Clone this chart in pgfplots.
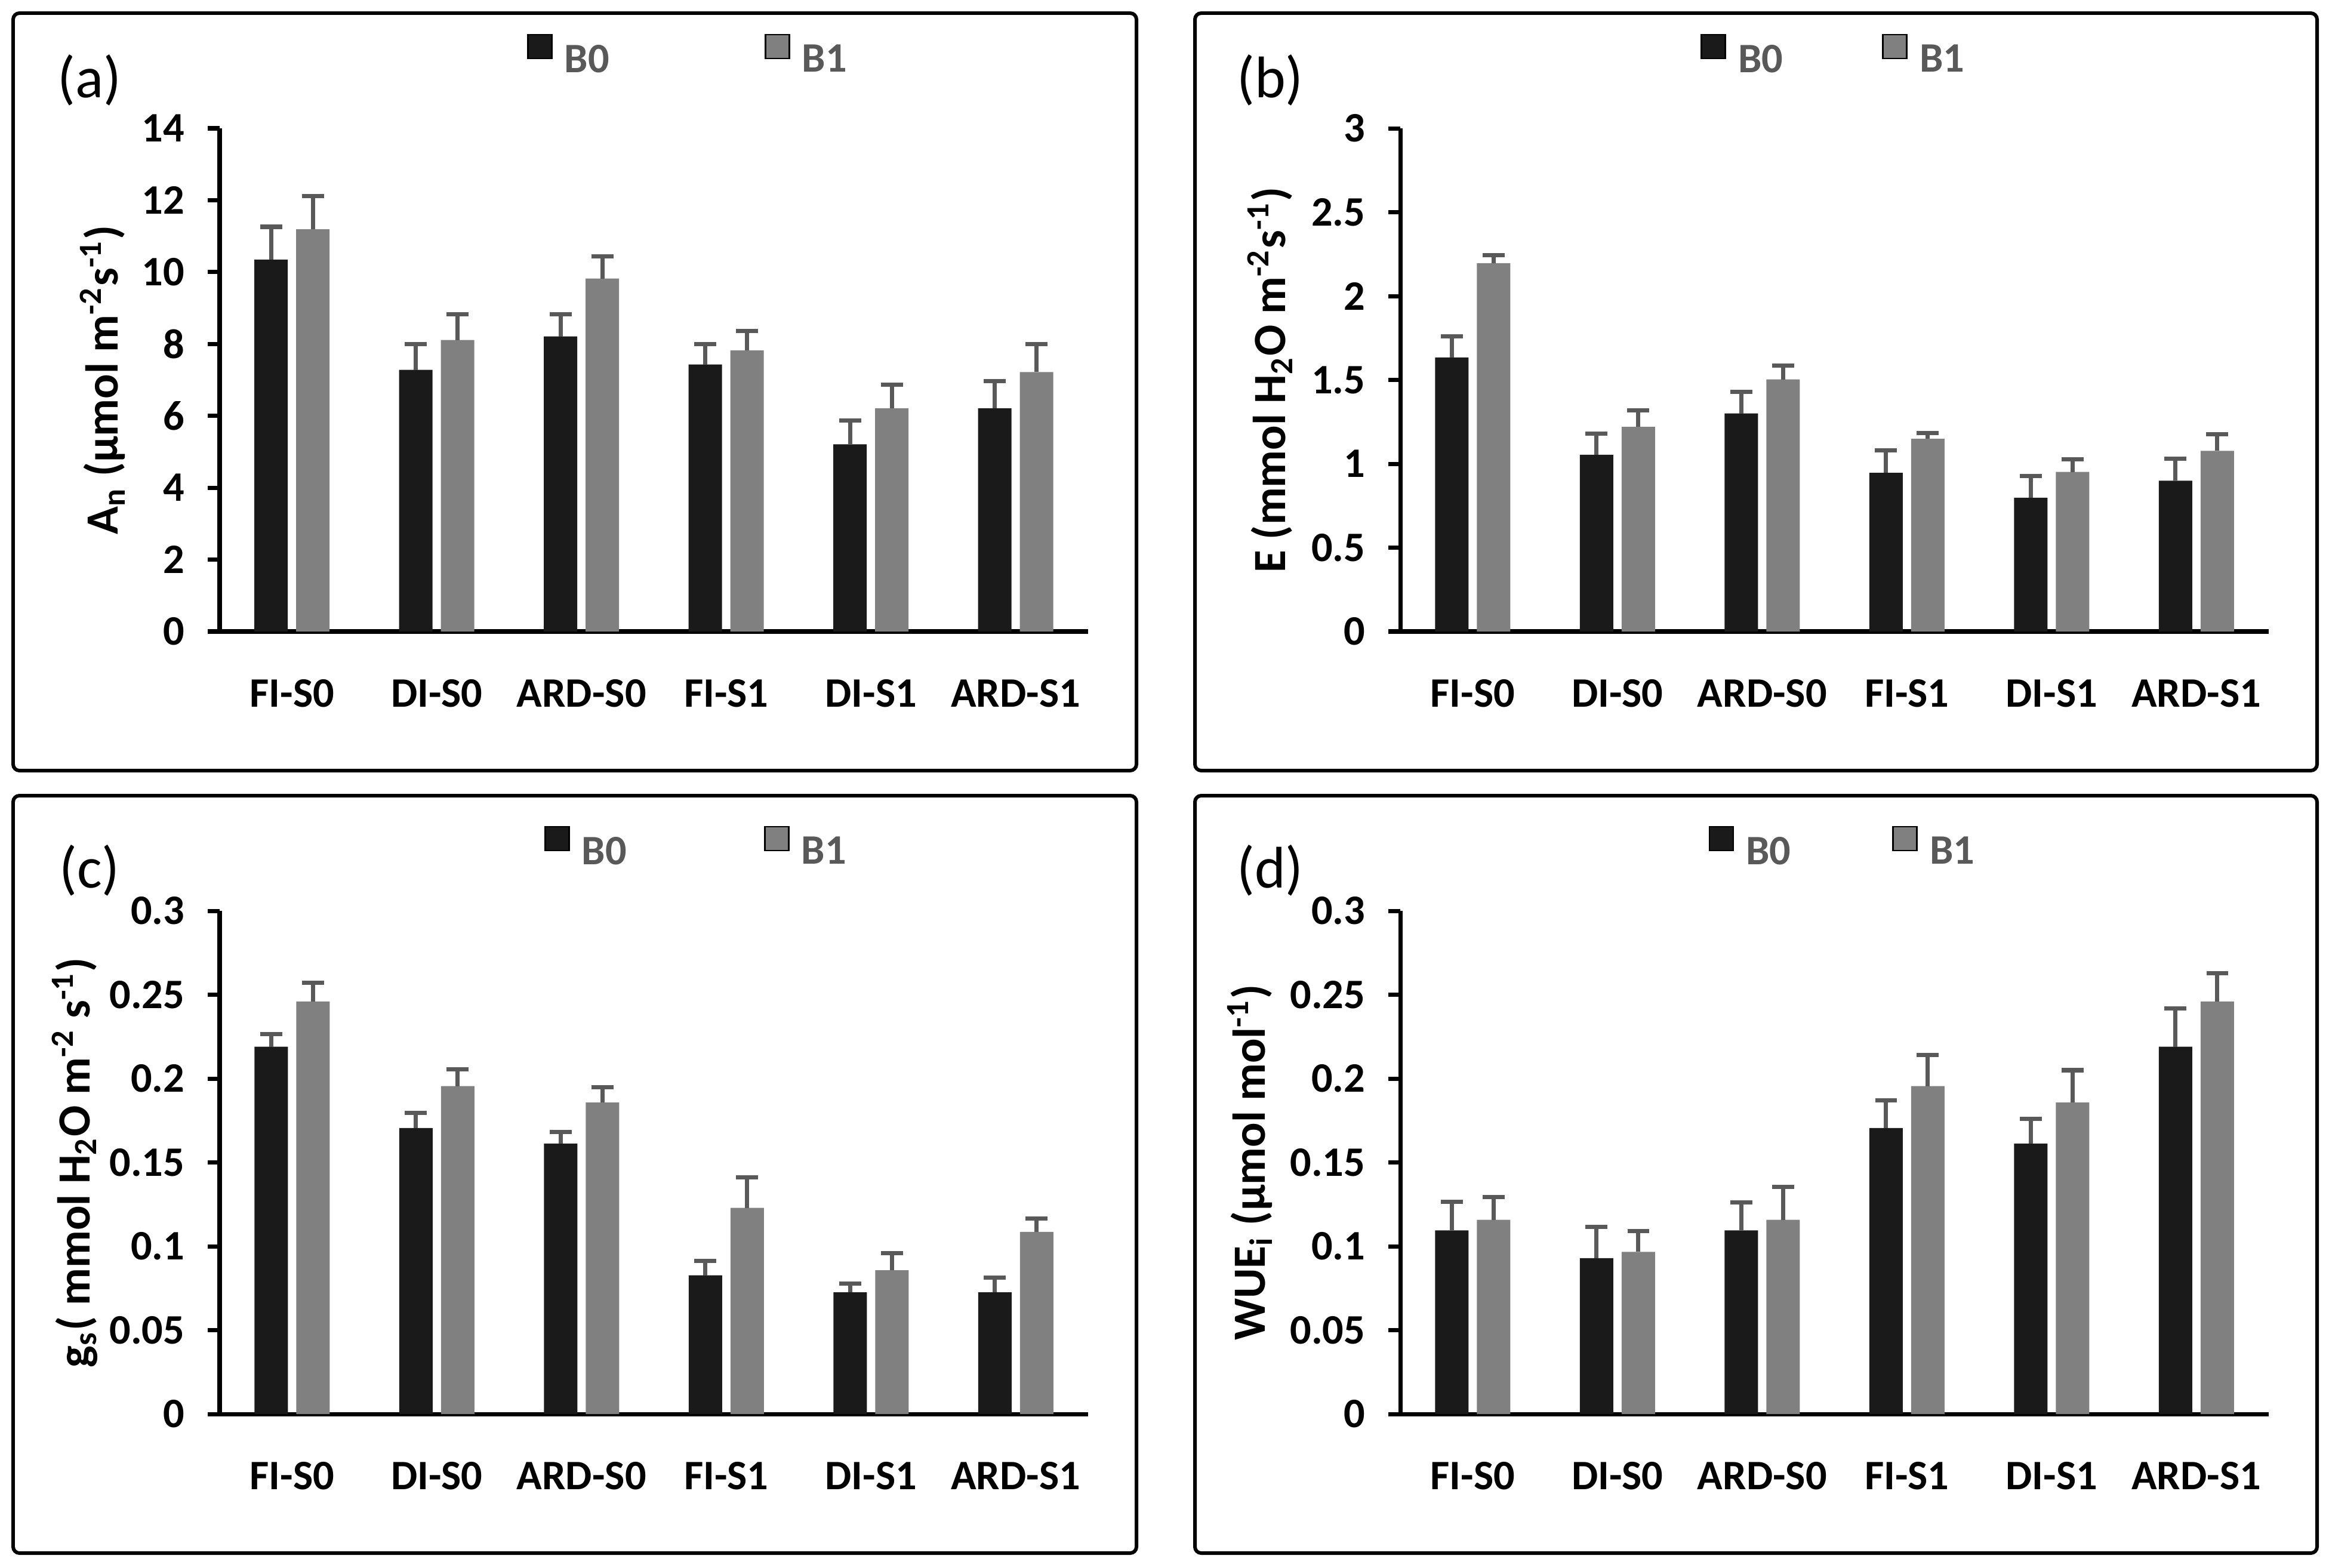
\documentclass[border=0pt]{standalone}
\usepackage{fontspec}
\setmainfont{Carlito}
\usepackage{pgfplots}
\usepackage{pgfplotstable}
\pgfplotsset{compat=1.18}

\definecolor{bzero}{HTML}{1A1A1A}
\definecolor{bone}{HTML}{808080}
\definecolor{errc}{HTML}{595959}

% x: category index, b0/b1: means, e0/e1: upper error
\pgfplotstableread{
x b0 e0 b1 e1
0 10.35 0.91 11.19 0.93
1 7.28 0.72 8.11 0.72
2 8.21 0.62 9.82 0.61
3 7.43 0.56 7.82 0.54
4 5.21 0.66 6.21 0.66
5 6.21 0.75 7.22 0.77
}\tabA
\pgfplotstableread{
x b0 e0 b1 e1
0 1.634 0.125 2.196 0.048
1 1.054 0.125 1.220 0.098
2 1.300 0.130 1.503 0.083
3 0.946 0.134 1.149 0.036
4 0.798 0.128 0.952 0.075
5 0.899 0.131 1.077 0.099
}\tabB
\pgfplotstableread{
x b0 e0 b1 e1
0 0.2190 0.0075 0.2460 0.0110
1 0.1705 0.0090 0.1955 0.0102
2 0.1613 0.0067 0.1857 0.0093
3 0.0827 0.0087 0.1229 0.0181
4 0.0726 0.0051 0.0857 0.0101
5 0.0726 0.0087 0.1086 0.0078
}\tabC
\pgfplotstableread{
x b0 e0 b1 e1
0 0.1095 0.0170 0.1158 0.0137
1 0.0929 0.0187 0.0967 0.0125
2 0.1095 0.0165 0.1158 0.0196
3 0.1705 0.0165 0.1955 0.0185
4 0.1613 0.0147 0.1857 0.0193
5 0.2190 0.0230 0.2460 0.0170
}\tabD

\pgfplotsset{
  panel/.style={
    anchor=south west,
    scale only axis, width=7.275cm, height=4.215cm,
    xmin=-0.5, xmax=5.5, ymin=0,
    axis x line=bottom, axis y line=left,
    axis line style={-, line width=1pt, black},
    ybar, bar width=0.28cm,
    xtick={0,...,5},
    xticklabels={FI-S0,DI-S0,ARD-S0,FI-S1,DI-S1,ARD-S1},
    xtick style={draw=none},
    ytick style={line width=1pt, black},
    tick align=outside, major tick length=0.1cm,
    scaled y ticks=false,
    /pgf/number format/fixed,
    /pgf/number format/precision=2,
    /pgf/number format/assume math mode=true,
    ticklabel style={font=\fontsize{10}{12}\selectfont\bfseries},
    xticklabel style={yshift=-5pt},
    yticklabel style={xshift=-2pt},
    ylabel style={font=\fontsize{11}{13}\selectfont\bfseries, anchor=center},
    legend style={draw=none, fill=none, legend columns=2,
      inner sep=0pt, outer sep=0pt,
      nodes={inner sep=0pt, text depth=0pt},
      font=\fontsize{10}{12}\selectfont\bfseries, text=errc,
      column sep=0.1cm, anchor=south west},
    legend image code/.code={\fill[##1] (0cm,0cm) rectangle (0.2cm,0.2cm);},
    clip=false,
  },
  bzplot/.style={fill=bzero, draw=none, bar shift=-0.175cm, forget plot,
    error bars/.cd, y dir=plus, y explicit,
    error bar style={draw=errc, line width=1pt},
    error mark options={draw=errc, rotate=90, mark size=2.6pt, line width=1pt}},
  boplot/.style={fill=bone, draw=none, bar shift=0.175cm, forget plot,
    error bars/.cd, y dir=plus, y explicit,
    error bar style={draw=errc, line width=1pt},
    error mark options={draw=errc, rotate=90, mark size=2.6pt, line width=1pt}},
}

\begin{document}
\begin{tikzpicture}
\path[use as bounding box] (0,0) rectangle (19.51,-13.13);

% panel frames
\draw[line width=0.85pt, rounded corners=1.5pt] (0.11,-0.11) rectangle (9.52,-6.455);
\draw[line width=0.85pt, rounded corners=1.5pt] (10.01,-0.11) rectangle (19.41,-6.455);
\draw[line width=0.85pt, rounded corners=1.5pt] (0.11,-6.665) rectangle (9.52,-13.01);
\draw[line width=0.85pt, rounded corners=1.5pt] (10.01,-6.665) rectangle (19.41,-13.01);

\node[font=\fontsize{14}{16}\selectfont] at (0.75,-0.67) {(a)};
\node[font=\fontsize{14}{16}\selectfont] at (10.64,-0.67) {(b)};
\node[font=\fontsize{14}{16}\selectfont] at (0.75,-7.29) {(c)};
\node[font=\fontsize{14}{16}\selectfont] at (10.64,-7.29) {(d)};

% (a)
\begin{axis}[panel, at={(1.84cm,-5.29cm)},
  ymax=14, ytick={0,2,...,14},
  ylabel={A\textsubscript{n} (µmol m\textsuperscript{-2}s\textsuperscript{-1})},
  ylabel style={at={(axis description cs:-0.1347,0.5)}},
  legend style={at={(0.354,1.1115)},
    /tikz/every even column/.append style={column sep=1.3cm}},
]
\addplot[bzplot] table[x=x, y=b0, y error=e0] {\tabA};
\addplot[boplot] table[x=x, y=b1, y error=e1] {\tabA};
\addlegendimage{fill=bzero}\addlegendentry{B0}
\addlegendimage{fill=bone}\addlegendentry{B1}
\end{axis}

% (b)
\begin{axis}[panel, at={(11.73cm,-5.29cm)},
  ymax=3, ytick={0,0.5,1,1.5,2,2.5,3},
  ylabel={E (mmol H\textsubscript{2}O m\textsuperscript{-2}s\textsuperscript{-1})},
  ylabel style={at={(axis description cs:-0.1498,0.5)}},
  legend style={at={(0.346,1.1115)},
    /tikz/every even column/.append style={column sep=0.83cm}},
]
\addplot[bzplot] table[x=x, y=b0, y error=e0] {\tabB};
\addplot[boplot] table[x=x, y=b1, y error=e1] {\tabB};
\addlegendimage{fill=bzero}\addlegendentry{B0}
\addlegendimage{fill=bone}\addlegendentry{B1}
\end{axis}

% (c)
\begin{axis}[panel, at={(1.84cm,-11.845cm)},
  ymax=0.3, ytick={0,0.05,0.1,0.15,0.2,0.25,0.3},
  ylabel={g\textsubscript{s}( mmol H\textsubscript{2}O m\textsuperscript{-2} s\textsuperscript{-1})},
  ylabel style={at={(axis description cs:-0.167,0.5)}},
  legend style={at={(0.374,1.0925)},
    /tikz/every even column/.append style={column sep=1.15cm}},
]
\addplot[bzplot] table[x=x, y=b0, y error=e0] {\tabC};
\addplot[boplot] table[x=x, y=b1, y error=e1] {\tabC};
\addlegendimage{fill=bzero}\addlegendentry{B0}
\addlegendimage{fill=bone}\addlegendentry{B1}
\end{axis}

% (d)
\begin{axis}[panel, at={(11.73cm,-11.845cm)},
  ymax=0.3, ytick={0,0.05,0.1,0.15,0.2,0.25,0.3},
  ylabel={WUE\textsubscript{i} (µmol mol\textsuperscript{-1})},
  ylabel style={at={(axis description cs:-0.173,0.5)}},
  legend style={at={(0.355,1.0925)},
    /tikz/every even column/.append style={column sep=0.85cm}},
]
\addplot[bzplot] table[x=x, y=b0, y error=e0] {\tabD};
\addplot[boplot] table[x=x, y=b1, y error=e1] {\tabD};
\addlegendimage{fill=bzero}\addlegendentry{B0}
\addlegendimage{fill=bone}\addlegendentry{B1}
\end{axis}
\end{tikzpicture}
\end{document}
